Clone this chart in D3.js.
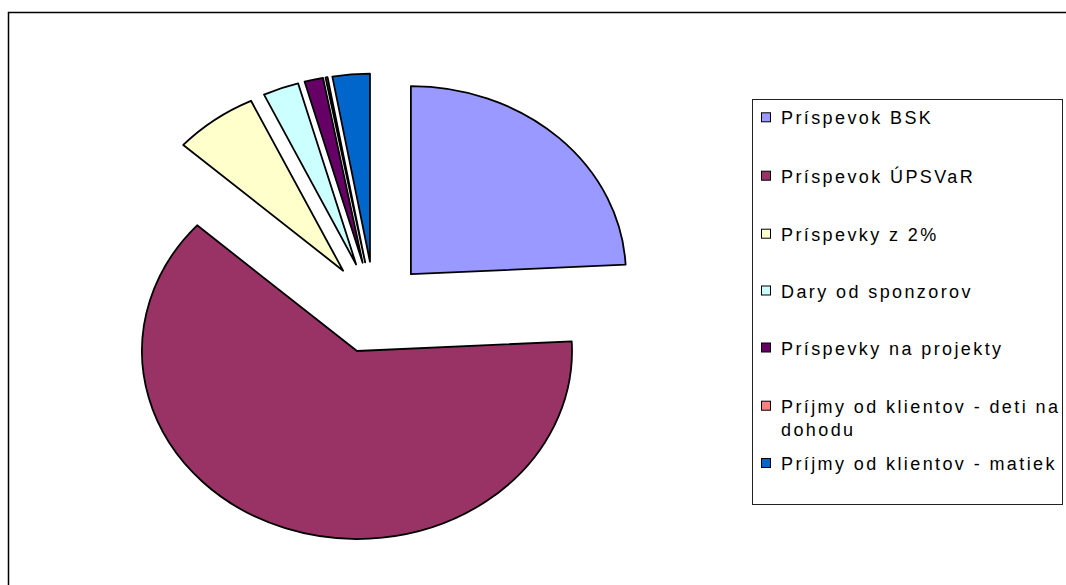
<!DOCTYPE html>
<html>
<head>
<meta charset="utf-8">
<script src="https://cdn.jsdelivr.net/npm/d3@7"></script>
<style>
  body { margin: 0; background: #fff; }
  svg { display: block; }
</style>
</head>
<body>
<div id="chart"></div>
<script>
// slice labels, values (share of income, %) and colours, in Excel order
var categories = ["Príspevok BSK", "Príspevok ÚPSVaR", "Príspevky z 2%", "Dary od sponzorov",
  "Príspevky na projekty", "Príjmy od klientov - deti na dohodu", "Príjmy od klientov - matiek"]
var legendLines = [["Príspevok BSK"], ["Príspevok ÚPSVaR"], ["Príspevky z 2%"], ["Dary od sponzorov"],
  ["Príspevky na projekty"], ["Príjmy od klientov - deti na", "dohodu"], ["Príjmy od klientov - matiek"]]
var values = [24.2, 62.5, 6.3, 2.7, 1.4, 0.15, 2.8]
var colors = ["#9999FF", "#993366", "#FFFFCC", "#CCFFFF", "#660066", "#FF8080", "#0066CC"]

var W = 1066, H = 585
var svg = d3.select("#chart").append("svg")
  .attr("width", W)
  .attr("height", H)

// chart area frame (only top/left visible)
svg.append("rect")
  .attr("x", 8.5).attr("y", 12.5)
  .attr("width", 1200).attr("height", 800)
  .attr("fill", "#fff")
  .attr("stroke", "#000")
  .attr("stroke-width", 1.5)

// pie is drawn as a circle of radius ry, stretched horizontally into an ellipse
var cx = 374.6, cy = 307.6
var ry = 188, rx = 215
var explode = 0.245

var pie = d3.pie().sort(null).value(function (d) { return d })
var arc = d3.arc().innerRadius(0).outerRadius(ry)

var g = svg.append("g")
  .attr("transform", "translate(" + cx + "," + cy + ") scale(" + (rx / ry) + ",1)")

g.selectAll("path")
  .data(pie(values))
  .enter()
  .append("path")
  .attr("d", arc)
  .attr("transform", function (d) {
    var mid = (d.startAngle + d.endAngle) / 2
    return "translate(" + (Math.sin(mid) * explode * ry) + "," + (-Math.cos(mid) * explode * ry) + ")"
  })
  .attr("fill", function (d, i) { return colors[i] })
  .attr("stroke", "#000")
  .attr("stroke-width", 1.8)
  .attr("stroke-linejoin", "round")
  .attr("vector-effect", "non-scaling-stroke")

// legend
var legend = svg.append("g")
legend.append("rect")
  .attr("x", 752.5).attr("y", 99.5)
  .attr("width", 310).attr("height", 405)
  .attr("fill", "#fff")
  .attr("stroke", "#222")
  .attr("stroke-width", 1)

var baselines = [124.3, 182.7, 240.7, 297.5, 354.5, 412.7, 470]

var items = legend.selectAll(".item")
  .data(categories)
  .enter()
  .append("g")
  .attr("class", "item")

items.append("rect")
  .attr("x", 761.5)
  .attr("y", function (d, i) { return baselines[i] - 11.5 })
  .attr("width", 9).attr("height", 9)
  .attr("fill", function (d, i) { return colors[i] })
  .attr("stroke", "#000")
  .attr("stroke-width", 1)

items.append("text")
  .attr("x", 781)
  .attr("y", function (d, i) { return baselines[i] })
  .attr("font-family", "Arial, 'Liberation Sans', sans-serif")
  .attr("font-size", "18px")
  .attr("letter-spacing", "2.4px")
  .attr("fill", "#000")
  .each(function (d, i) {
    var t = d3.select(this)
    legendLines[i].forEach(function (line, k) {
      t.append("tspan")
        .attr("x", 781)
        .attr("dy", k === 0 ? 0 : 23)
        .text(line)
    })
  })
</script>
</body>
</html>
